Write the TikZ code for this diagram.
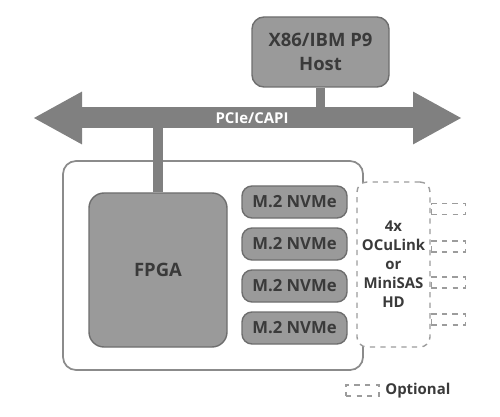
\documentclass[tikz,border=0pt]{standalone}
\usepackage{fontspec}
\setmainfont{Open Sans}
\usetikzlibrary{arrows.meta}
\definecolor{boxgray}{HTML}{9A9A9A}
\definecolor{edgegray}{HTML}{6E6E6E}
\definecolor{busgray}{HTML}{808080}
\definecolor{textgray}{HTML}{3A3A3A}
\definecolor{dashgray}{HTML}{9C9C9C}
\tikzset{
  unit/.style={draw=edgegray, fill=boxgray, line width=0.8pt, rounded corners=0.24cm,
    text=textgray, font=\bfseries\fontsize{10.5}{13.7}\selectfont, align=center, inner sep=0pt},
  drive/.style={unit, rounded corners=0.2cm, minimum width=2.10cm, minimum height=0.64cm,
    font=\bfseries\fontsize{9.5}{11}\selectfont},
  optional/.style={draw=dashgray, dashed, line width=0.8pt, fill=white, inner sep=0pt},
  link/.style={busgray, line width=0.17cm},
}
\begin{document}
\begin{tikzpicture}
  \useasboundingbox (0,0) rectangle (10,-8.32);
  % board
  \draw[draw=edgegray!80, line width=1pt, rounded corners=0.26cm]
    (1.26,-3.22) rectangle (7.26,-7.40);
  % nodes
  \node[unit, minimum width=2.74cm, minimum height=1.40cm] (host) at (6.41,-1.04) {X86/IBM P9\\Host};
  \node[unit, rounded corners=0.3cm, minimum width=2.76cm, minimum height=3.08cm] (fpga) at (3.16,-5.40) {FPGA};
  \node[drive] (m1) at (5.89,-4.04) {M.2 NVMe};
  \node[drive] (m2) at (5.89,-4.88) {M.2 NVMe};
  \node[drive] (m3) at (5.89,-5.72) {M.2 NVMe};
  \node[drive] (m4) at (5.89,-6.56) {M.2 NVMe};
  \node[optional, rounded corners=0.2cm, minimum width=1.46cm, minimum height=3.30cm,
    text=textgray, font=\bfseries\fontsize{8.5}{10.8}\selectfont, align=center]
    (ocu) at (7.87,-5.29) {4x\\OCuLink\\or\\MiniSAS\\HD};
  \node[optional, anchor=west, minimum width=0.68cm, minimum height=0.22cm] (p1) at (ocu.east |- 0,-4.18) {};
  \node[optional, anchor=west, minimum width=0.68cm, minimum height=0.22cm] (p2) at (ocu.east |- 0,-4.93) {};
  \node[optional, anchor=west, minimum width=0.68cm, minimum height=0.22cm] (p3) at (ocu.east |- 0,-5.65) {};
  \node[optional, anchor=west, minimum width=0.68cm, minimum height=0.22cm] (p4) at (ocu.east |- 0,-6.39) {};
  % bus
  \coordinate (busL) at (0.66,-2.36);
  \coordinate (busR) at (9.24,-2.36);
  \draw[link] (host.south) -- (host.south |- busL);
  \draw[link, line width=0.2cm] (fpga.north) -- (fpga.north |- busL);
  \draw[busgray, line width=0.42cm,
    {Triangle[length=0.98cm,width=0.98cm]}-{Triangle[length=0.98cm,width=0.98cm]}]
    (busL) -- (busR);
  \node[text=white, font=\bfseries\fontsize{8.5}{10}\selectfont] (buslabel) at (5.04,-2.36) {PCIe/CAPI};
  % legend
  \node[optional, minimum width=0.66cm, minimum height=0.22cm] (key) at (7.25,-7.81) {};
  \node[anchor=west, inner sep=0pt, text=textgray, font=\bfseries\fontsize{8.5}{10}\selectfont]
    (keylabel) at (7.70,-7.81) {Optional};
\end{tikzpicture}
\end{document}
